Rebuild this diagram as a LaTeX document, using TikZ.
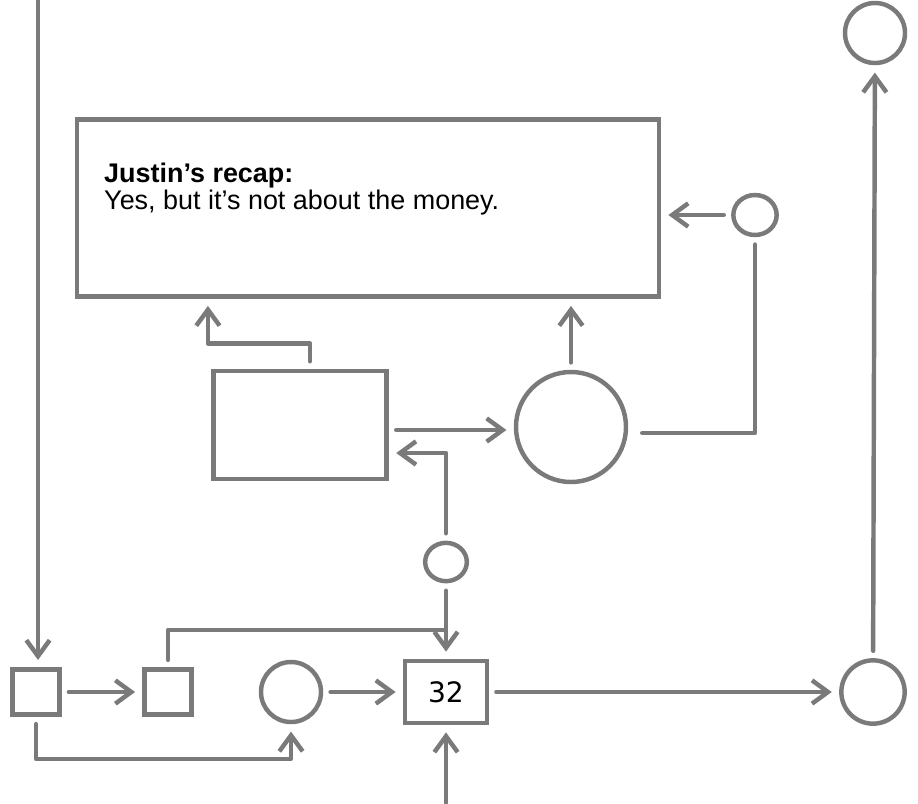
\documentclass[tikz,border=0pt]{standalone}
\usepackage{fontspec}
\setmainfont{Liberation Sans}
\newfontfamily\numfont{DejaVu Sans}
\usetikzlibrary{shapes.geometric, arrows.meta, positioning, calc}
\definecolor{pencil}{HTML}{7A7A7A}
\tikzstyle{line} = [draw=pencil, line width=3.8pt, line cap=round, line join=round]
\tikzstyle{arrow} = [line, ->, >={Straight Barb[length=0.48cm,width=0.7cm]}, shorten >=0.22cm, shorten <=0.22cm]
\tikzstyle{block} = [rectangle, draw=pencil, line width=3.8pt, fill=white, text centered]
\tikzstyle{bubble} = [circle, draw=pencil, line width=3.8pt, fill=white, inner sep=0pt]
\tikzstyle{pill} = [ellipse, draw=pencil, line width=3.8pt, fill=white, inner sep=0pt, minimum width=1.3cm, minimum height=1.2cm]

\begin{document}
\begin{tikzpicture}[x=0.03cm, y=-0.03cm]
    \useasboundingbox (0,0) rectangle (918,803);

    % Recap box with its text
    \node[block, minimum width=17.45cm, minimum height=5.3cm] (recap) at (368,208) {};
    \node[anchor=base west, align=left, inner sep=0pt, font=\fontsize{23}{21}\selectfont] (recaptext) at (104,209)
        {\textbf{Justin’s recap:}\\Yes, but it’s not about the money.};

    % Middle row
    \node[block, minimum width=5.2cm, minimum height=3.25cm] (inbox) at (300,425) {};
    \node[bubble, minimum size=3.3cm] (hub) at (571,427) {};
    \node[pill] (tap) at (755,215) {};
    \node[pill, minimum width=1.25cm, minimum height=1.15cm] (feed) at (446,562) {};

    % Bottom row
    \node[block, minimum width=1.4cm, minimum height=1.35cm] (first) at (36,692) {};
    \node[block, minimum width=1.4cm, minimum height=1.35cm] (second) at (168,692) {};
    \node[bubble, minimum size=1.8cm] (source) at (291,692) {};
    \node[block, minimum width=2.45cm, minimum height=1.85cm, font=\numfont\fontsize{24}{26}\selectfont] (count) at (446,692) {32};
    \node[bubble, minimum size=1.9cm] (sink) at (873,692) {};
    \node[bubble, minimum size=1.8cm] (goal) at (875,33) {};

    % Loose ends
    \coordinate (topin) at (38,0);
    \coordinate (botin) at (446,803);
    \coordinate (join) at (446,630);

    % Flows
    \draw[arrow, shorten <=0pt] (topin) -- (topin |- first.north);
    \draw[arrow] (first) -- (second);
    \draw[arrow] (second.north) |- (join) -- (count.north);
    \draw[line, shorten <=0.22cm] (feed.south) -- (join);
    \draw[arrow] (first.south) -- ++(0,42) -| (source.south);
    \draw[arrow] (source) -- (count);
    \draw[arrow, shorten <=0pt] (botin) -- (count.south);
    \draw[arrow] (count) -- (sink);
    \draw[arrow] (sink) -- (goal);

    \draw[arrow] (tap.west) -- (tap.west -| recap.east);
    \draw[line, shorten <=0.22cm] (tap.south) |- ($(hub.east)+(14,6)$);
    \draw[arrow] (hub.north) -- (hub.north |- recap.south);
    \draw[arrow] ($(inbox.east)+(0,5)$) -- ($(hub.west)+(0,3)$);
    \draw[arrow] (feed.north) |- ($(inbox.east)+(0,28)$);
    \draw[arrow] ($(inbox.north)+(10,0)$) -- ++(0,-25) -| ($(recap.south west)+(133,0)$);

\end{tikzpicture}
\end{document}
